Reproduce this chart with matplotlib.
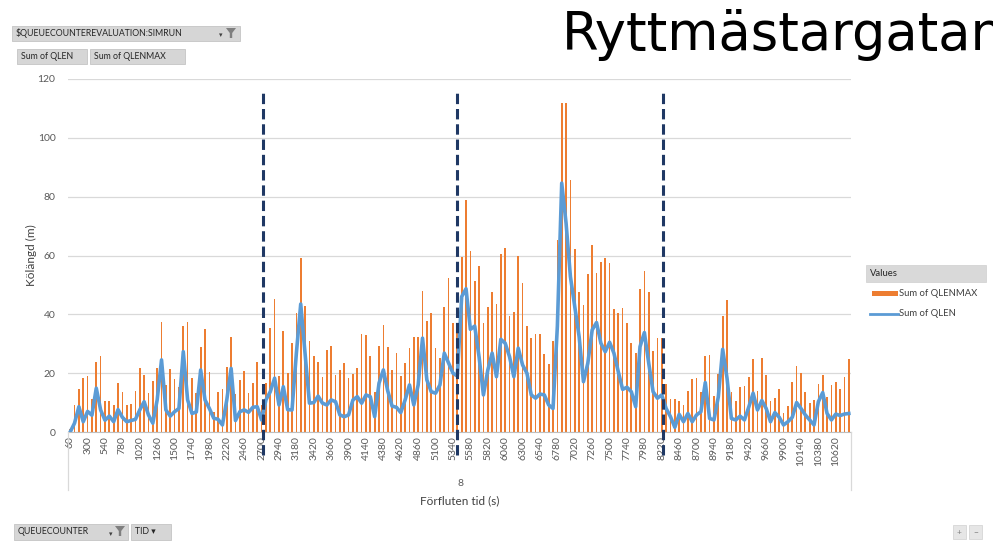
import numpy as np
import matplotlib.pyplot as plt
from matplotlib.patches import Rectangle, Polygon
from matplotlib.lines import Line2D

plt.rcParams['font.family'] = ['Lato', 'DejaVu Sans']

# elapsed time categories (s)
tid = list(range(60, 10801, 60))

qlenmax = [1, 9.2, 14.7, 18.3, 19, 11.2, 23.9, 26, 10.5, 10.5,
           9.2, 16.5, 13.7, 9.2, 9.5, 14, 21.9, 19.5, 13.4, 17.3,
           21.9, 37.5, 16, 21.5, 18, 15.4, 36, 37.5, 18.3, 13.4,
           29, 35, 20.5, 6.9, 13.7, 14.5, 22.2, 32.2, 12.9, 17.7,
           20.7, 13.4, 16.5, 23.9, 9.2, 16.5, 35.3, 45.2, 19, 34.4,
           20, 30.4, 40.4, 59, 43, 31, 25.9, 23.7, 18.8, 27.9,
           29.3, 19.4, 21.1, 23.6, 18.3, 19.6, 21.9, 33.2, 32.9, 25.9,
           13.7, 29.4, 36.4, 29, 21.1, 27, 19, 23.4, 28.7, 32.2,
           32.2, 47.8, 37.9, 40.4, 28.7, 25.1, 42.4, 52.4, 37.2, 35.3,
           59.4, 78.9, 61.6, 51.4, 56.6, 37, 42.4, 47.7, 43.4, 60.5,
           62.5, 39.6, 40.7, 59.9, 50.6, 36, 32.1, 33.2, 33.2, 26.4,
           23.1, 31, 65.3, 112, 111.8, 85.7, 62.2, 47.7, 43.1, 53.7,
           63.4, 54.2, 57.9, 59, 57.4, 41.7, 40.6, 42.3, 37, 30.2,
           26.8, 48.6, 54.8, 47.7, 27.6, 32.1, 32.1, 16.3, 11.1, 11.1,
           10.5, 9.2, 14, 18, 18.5, 13.7, 25.9, 26.2, 12.2, 19.7,
           39.6, 44.9, 13.7, 10.6, 15.2, 15.6, 18.8, 24.7, 14, 25.3,
           19.4, 10.5, 11.7, 14.5, 6.3, 8.8, 17, 22.6, 20, 13.7,
           10, 10.9, 16.3, 19.4, 12, 16, 16.9, 14.5, 18.8, 24.7]

qlen = [0, 3, 8.6, 3.5, 7, 5.7, 14.9, 7.5, 4, 5.4,
        3.5, 7.6, 5, 3.5, 3.9, 4.3, 7.5, 10.3, 5.8, 3,
        10.9, 24.5, 7.5, 5.4, 6.9, 8, 27.3, 10.9, 6.3, 6.8,
        21.1, 10.9, 8, 4.7, 4.3, 2.4, 10.9, 21.6, 3.9, 6.9,
        7.5, 6.7, 8.4, 8.6, 4.1, 10.9, 13.7, 18.3, 9.2, 15.4,
        7.6, 7.5, 26.8, 43.5, 26.8, 9.8, 10, 12.2, 9.8, 9.2,
        10.9, 10.3, 5.8, 5.2, 5.8, 10.9, 12, 9.8, 12.6, 12,
        5.2, 16.6, 21.1, 14, 8.8, 8.4, 6.6, 10.9, 16, 9.2,
        16, 31.9, 17.7, 13.7, 13.2, 16, 26.8, 23.4, 20, 19,
        46, 48.7, 34.9, 36, 25.5, 12.6, 21, 26.8, 18.8, 31.5,
        30.2, 25.6, 18.8, 28.5, 22.8, 20, 12.6, 11.5, 12.9, 12.6,
        9.2, 8, 36, 84.6, 71, 52.8, 42.6, 32.4, 17.1, 23.4,
        34.7, 37.2, 30.2, 27.3, 30.5, 26.8, 20.5, 14.5, 15.2, 13.7,
        8.6, 29, 33.8, 23.4, 13.7, 11.5, 12.6, 8, 5.2, 1.6,
        6, 3.5, 6.3, 3.5, 5.8, 6.9, 16.8, 4.6, 4.1, 12,
        28.1, 18.3, 4.6, 4.1, 5.4, 4.1, 8.5, 13.2, 7.5, 10.7,
        8, 3.5, 6.6, 5, 2.4, 3.5, 5, 10, 8, 5.8,
        4.1, 2.4, 10.3, 13.4, 6.3, 4.1, 6.1, 5.6, 6.1, 6.3]

# manually drawn phase separators (category position)
phase_breaks = [44.3, 88.9, 136.3]

W, H = 993, 541
fig = plt.figure(figsize=(W / 100, H / 100), dpi=100)
ax = fig.add_axes([68 / W, 1 - 432 / H, (851 - 68) / W, (432 - 79) / H])

x = np.arange(len(tid))
ax.bar(x, qlenmax, width=0.4, color='#ED7D31', zorder=2)
ax.plot(x, qlen, color='#5B9BD5', lw=2.6, solid_joinstyle='round', zorder=3)

ax.set_xlim(-0.5, len(tid) - 0.5)
ax.set_ylim(0, 120)
ax.set_yticks(range(0, 121, 20))
ax.grid(axis='y', color='#d9d9d9', lw=0.9)
ax.set_axisbelow(True)
for s in ['top', 'right', 'left']:
    ax.spines[s].set_visible(False)
ax.spines['bottom'].set_color('#bfbfbf')
ax.set_xticks(x[::4])
ax.set_xticklabels([str(t) for t in tid[::4]], rotation=90)
ax.tick_params(axis='x', length=0, labelsize=7.5, colors='#595959', pad=3)
ax.tick_params(axis='y', length=0, labelsize=7.5, colors='#595959', pad=9)

for xb in phase_breaks:
    ax.axvline(xb, ymin=-23 / 353, ymax=342 / 353, color='#1F3864', lw=2.2,
               dashes=(3.4, 1.6), clip_on=False, zorder=5)

# multi-level axis: group separators and group label
for px in (68, 851):
    fig.add_artist(Line2D([px / W, px / W], [1 - 432 / H, 1 - 490 / H], color='#d9d9d9', lw=0.9))
fig.text(460 / W, 1 - 484 / H, '8', ha='center', va='center', fontsize=7.5, color='#595959')
fig.text(460 / W, 1 - 501 / H, 'Förfluten tid (s)', ha='center', va='center', fontsize=8.5, color='#404040')
fig.text(31 / W, 1 - 255 / H, 'Kölängd (m)', ha='center', va='center', rotation=90,
         fontsize=8.5, color='#404040')

# title (runs off the right edge, as in the original slide)
fig.text(562 / W, 1 - 50 / H, 'Ryttmästargatan', ha='left', va='baseline',
         fontsize=38, family='DejaVu Sans', color='black')


def button(x0, y0, x1, y1, label, fs=6.3):
    fig.add_artist(Rectangle((x0 / W, 1 - y1 / H), (x1 - x0) / W, (y1 - y0) / H,
                             facecolor='#d6d6d6', edgecolor='#c4c4c4', lw=0.6))
    fig.text((x0 + 4) / W, 1 - (y0 + y1) / 2 / H, label, ha='left', va='center',
             fontsize=fs, color='#262626')


def funnel(cx, cy):
    pts = [(cx - 5, cy - 5), (cx + 5, cy - 5), (cx + 1.2, cy), (cx + 1.2, cy + 5), (cx - 1.2, cy + 5), (cx - 1.2, cy)]
    fig.add_artist(Polygon([(px / W, 1 - py / H) for px, py in pts], closed=True,
                           facecolor='#7f7f7f', edgecolor='none'))


button(12, 26, 240, 41, '$QUEUECOUNTEREVALUATION:SIMRUN')
fig.text(221 / W, 1 - 35 / H, '▾', ha='center', va='center', fontsize=5, color='#404040')
funnel(231, 33)
button(17, 49, 87, 64, 'Sum of QLEN')
button(90, 49, 185, 64, 'Sum of QLENMAX')
button(14, 524, 128, 540, 'QUEUECOUNTER')
fig.text(111 / W, 1 - 534 / H, '▾', ha='center', va='center', fontsize=5, color='#404040')
funnel(120, 531)
button(131, 524, 171, 540, 'TID ▾')
for bx, sym in ((953, '+'), (969, '−')):
    fig.add_artist(Rectangle((bx / W, 1 - 539 / H), 13 / W, 14 / H,
                             facecolor='#e6e6e6', edgecolor='#d0d0d0', lw=0.5))
    fig.text((bx + 6.5) / W, 1 - 532 / H, sym, ha='center', va='center', fontsize=6, color='#7f7f7f')

# legend
fig.add_artist(Rectangle((866 / W, 1 - 282 / H), 120 / W, 17 / H,
                         facecolor='#d9d9d9', edgecolor='#cfcfcf', lw=0.5))
fig.text(870 / W, 1 - 273.5 / H, 'Values', ha='left', va='center', fontsize=6.8, color='#262626')
fig.add_artist(Rectangle((872 / W, 1 - 296 / H), 26 / W, 5 / H, facecolor='#ED7D31', edgecolor='none'))
fig.text(899 / W, 1 - 293 / H, 'Sum of QLENMAX', ha='left', va='center', fontsize=6.8, color='#404040')
fig.add_artist(Line2D([870 / W, 898 / W], [1 - 314 / H, 1 - 314 / H], color='#5B9BD5', lw=2))
fig.text(899 / W, 1 - 313 / H, 'Sum of QLEN', ha='left', va='center', fontsize=6.8, color='#404040')

fig.savefig('out.png', dpi=100)
